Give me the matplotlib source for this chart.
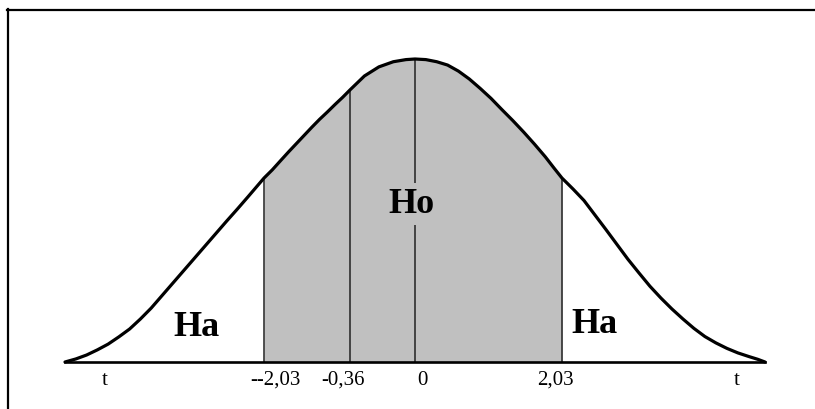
import numpy as np
import matplotlib
matplotlib.use("Agg")
import matplotlib.pyplot as plt
from matplotlib.lines import Line2D

# ---- data (t value, relative height of the curve) ----
curve_t = np.array([
    -4.8, -4.65, -4.5, -4.35, -4.2, -4.05, -3.9, -3.75, -3.6, -3.45,
    -3.3, -3.15, -3.0, -2.85, -2.7, -2.55, -2.4, -2.25, -2.03,
    -1.87, -1.7, -1.55, -1.4, -1.25, -1.1, -0.95, -0.8, -0.65, -0.5, -0.36,
    -0.28, -0.2, -0.12, -0.05, 0.0,
    0.15, 0.3, 0.45, 0.6, 0.75, 0.9, 1.05, 1.2, 1.35, 1.5, 1.65, 1.8, 1.92, 2.03,
    2.18, 2.33, 2.48, 2.63, 2.78, 2.93, 3.08, 3.23, 3.38, 3.53,
    3.68, 3.83, 3.98, 4.13, 4.28, 4.43, 4.58, 4.7, 4.8])
curve_h = np.array([
    0.0, 0.010, 0.023, 0.040, 0.059, 0.083, 0.109, 0.142, 0.178, 0.219,
    0.260, 0.301, 0.342, 0.383, 0.424, 0.465, 0.505, 0.546, 0.607,
    0.634, 0.666, 0.694, 0.721, 0.748, 0.775, 0.801, 0.825, 0.850, 0.874, 0.898,
    0.944, 0.974, 0.991, 0.998, 1.0,
    0.998, 0.991, 0.980, 0.960, 0.934, 0.903, 0.870, 0.833, 0.797, 0.759, 0.719, 0.677, 0.640, 0.607,
    0.571, 0.533, 0.485, 0.437, 0.388, 0.339, 0.294, 0.250, 0.211, 0.175,
    0.142, 0.111, 0.084, 0.063, 0.045, 0.030, 0.018, 0.009, 0.0])
crit_values = [-2.03, -0.36, 0.0, 2.03]
tick_labels = ["t", "--2,03", "-0,36", "0", "2,03", "t"]
region_labels = ["Ha", "Ho", "Ha"]

# ---- schematic (non-linear) x scale as drawn in the figure ----
t_knots = [-10, -4.8, -2.03, -0.36, 0, 2.03, 4.8, 10]
u_knots = [-723.4, -350, -151, -65, 0, 147, 350, 731.2]
def fwd(x):
    return np.interp(x, t_knots, u_knots)
def inv(u):
    return np.interp(u, u_knots, t_knots)

W, H = 815, 409
fig = plt.figure(figsize=(W / 100, H / 100), dpi=100)
fig.patch.set_facecolor("white")
ax = fig.add_axes([0, 47 / H, 1, 362 / H])
ax.set_xscale("function", functions=(fwd, inv))
ax.set_xlim(inv(-415), inv(400))
ax.set_ylim(0, 362 / 303)
ax.axis("off")

shade = (curve_t >= crit_values[0]) & (curve_t <= crit_values[-1])
ax.fill_between(curve_t, 0, curve_h, where=shade, color="#c0c0c0", lw=0, zorder=1)

crit_h = np.interp(crit_values, curve_t, curve_h)
ax.vlines(crit_values, 0, crit_h, color="#222222", lw=1.1, zorder=2)

ax.plot(curve_t, curve_h, color="black", lw=2.3, solid_joinstyle="round",
        solid_capstyle="round", zorder=4, clip_on=False)
ax.plot([curve_t[0], curve_t[-1]], [0, 0], color="black", lw=1.9, zorder=4,
        clip_on=False)

serif = ["Liberation Serif", "DejaVu Serif"]

# tick labels below the baseline
tick_vals = [curve_t[0]] + crit_values + [curve_t[-1]]
tick_dx = [40, 11, -7, 7, -7, -28]
for v, lab, dx in zip(tick_vals, tick_labels, tick_dx):
    ax.annotate(lab, xy=(v, 0), xytext=(dx * 0.72, -18.5 * 0.72),
                textcoords="offset points", ha="center", va="center",
                fontsize=15, family=serif, color="black", annotation_clip=False)

# region labels
ax.text(-2.963, 0.1155, region_labels[0], ha="center", va="center",
        fontsize=26, fontweight="bold", family=serif, zorder=5)
ax.text(-0.022, 0.521, region_labels[1], ha="center", va="center",
        fontsize=26, fontweight="bold", family=serif, zorder=5,
        bbox=dict(facecolor="#c0c0c0", edgecolor="none", pad=3))
ax.text(2.467, 0.125, region_labels[2], ha="center", va="center",
        fontsize=26, fontweight="bold", family=serif, zorder=5)

# frame (top and left edges)
fig.add_artist(Line2D([7 / W, 1], [1 - 9.5 / H, 1 - 9.5 / H], color="black", lw=1.6))
fig.add_artist(Line2D([8 / W, 8 / W], [0, 1 - 9 / H], color="black", lw=1.6))

fig.savefig("out.png", dpi=100, facecolor="white")
